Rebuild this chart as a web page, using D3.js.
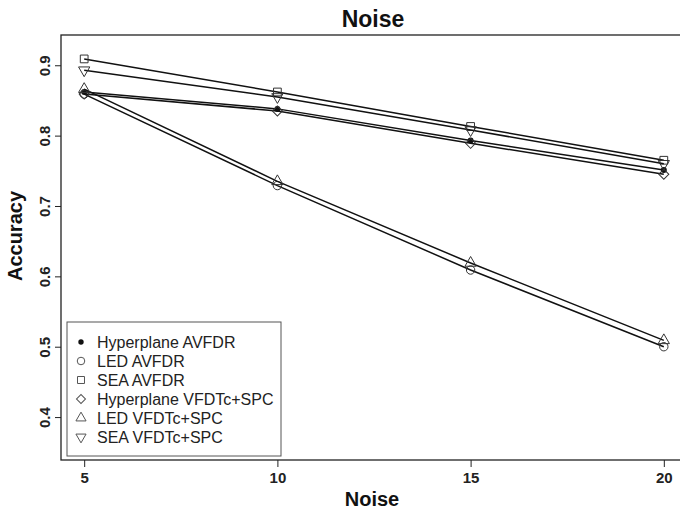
<!DOCTYPE html>
<html>
<head>
  <meta charset="UTF-8">
  <title>Noise</title>
  <script src="https://d3js.org/d3.v7.min.js"></script>
  <style>
    body { margin: 0; padding: 0; background: #fff; }
    svg { display: block; font-family: 'Liberation Sans', Arial, sans-serif; }
    .tick text { font-size: 15px; font-weight: bold; fill: #222; }
  </style>
</head>
<body>
  <svg id="chart" width="680" height="513"></svg>
  <script>
    const noise = [5, 10, 15, 20];
    const seriesNames = ["Hyperplane AVFDR", "LED AVFDR", "SEA AVFDR",
      "Hyperplane VFDTc+SPC", "LED VFDTc+SPC", "SEA VFDTc+SPC"];
    const hyperplaneAvfdr = [0.862, 0.838, 0.793, 0.751];
    const ledAvfdr = [0.859, 0.729, 0.609, 0.500];
    const seaAvfdr = [0.909, 0.862, 0.813, 0.765];
    const hyperplaneVfdtc = [0.859, 0.835, 0.789, 0.745];
    const ledVfdtc = [0.866, 0.735, 0.619, 0.509];
    const seaVfdtc = [0.893, 0.855, 0.808, 0.760];
    const xTicks = [5, 10, 15, 20];
    const yTicks = [0.4, 0.5, 0.6, 0.7, 0.8, 0.9];

    const allSeries = [hyperplaneAvfdr, ledAvfdr, seaAvfdr, hyperplaneVfdtc, ledVfdtc, seaVfdtc];
    const pch = ["dot", "circle", "square", "diamond", "triangle", "down"];

    const svg = d3.select("#chart");
    const x = d3.scaleLinear().domain([4.4, 20.6]).range([61, 687]);
    const y = d3.scaleLinear().domain([0.339, 0.943]).range([460, 35]);

    // box (right edge falls outside the picture)
    svg.append("rect")
      .attr("x", x.range()[0]).attr("y", y.range()[1])
      .attr("width", x.range()[1] - x.range()[0])
      .attr("height", y.range()[0] - y.range()[1])
      .attr("fill", "none").attr("stroke", "#222").attr("stroke-width", 1.3);

    const xAxis = svg.append("g")
      .attr("transform", `translate(0,${y.range()[0]})`)
      .call(d3.axisBottom(x).tickValues(xTicks).tickSize(7).tickPadding(5).tickFormat(d3.format("d")));
    xAxis.select(".domain").remove();
    xAxis.selectAll("line").attr("stroke", "#222");

    const yAxis = svg.append("g")
      .attr("transform", `translate(${x.range()[0]},0)`)
      .call(d3.axisLeft(y).tickValues(yTicks).tickSize(6).tickFormat(d3.format(".1f")));
    yAxis.select(".domain").remove();
    yAxis.selectAll("line").attr("stroke", "#222");
    yAxis.selectAll("text")
      .attr("x", 0).attr("dy", 0)
      .attr("text-anchor", "middle")
      .attr("transform", "translate(-11,0) rotate(-90)");

    function drawSymbol(g, type, cx, cy, scale, col) {
      scale = scale || 1;
      col = col || "#333";
      let s;
      if (type === "dot") {
        g.append("circle").attr("cx", cx).attr("cy", cy).attr("r", 3 * scale).attr("fill", "#111");
        return;
      }
      if (type === "circle") {
        g.append("circle").attr("cx", cx).attr("cy", cy).attr("r", 4.2 * scale)
          .attr("fill", "none").attr("stroke", col);
        return;
      }
      const a = scale * scale;
      if (type === "square") s = d3.symbol(d3.symbolSquare, 60 * a);
      if (type === "diamond") s = d3.symbol(d3.symbolSquare, 50 * a);
      if (type === "triangle" || type === "down") s = d3.symbol(d3.symbolTriangle, 55 * a);
      let rot = type === "diamond" ? 45 : type === "down" ? 180 : 0;
      g.append("path").attr("d", s())
        .attr("transform", `translate(${cx},${cy}) rotate(${rot})`)
        .attr("fill", "none").attr("stroke", col).attr("stroke-width", 1);
    }

    const line = d3.line().x((d, i) => x(noise[i])).y(d => y(d));
    allSeries.forEach(function(vals, k) {
      svg.append("path").datum(vals)
        .attr("d", line)
        .attr("fill", "none").attr("stroke", "#111").attr("stroke-width", 1.5);
      const g = svg.append("g");
      vals.forEach(function(v, i) { drawSymbol(g, pch[k], x(noise[i]), y(v)); });
    });

    // legend
    const lg = svg.append("g");
    lg.append("rect").attr("x", 67).attr("y", 322).attr("width", 214).attr("height", 134)
      .attr("fill", "#fff").attr("stroke", "#555").attr("stroke-width", 1);
    seriesNames.forEach(function(name, k) {
      const yy = 342 + k * 19;
      drawSymbol(lg, pch[k], 81, yy, 0.9, "#555");
      lg.append("text").attr("x", 97).attr("y", yy).attr("dy", "0.35em")
        .style("font-size", "16px").attr("fill", "#222").text(name);
    });

    svg.append("text").attr("x", 373).attr("y", 27).attr("text-anchor", "middle")
      .style("font-size", "23px").style("font-weight", "bold").attr("fill", "#111").text("Noise");
    svg.append("text").attr("x", 372).attr("y", 506).attr("text-anchor", "middle")
      .style("font-size", "20px").style("font-weight", "bold").attr("fill", "#111").text("Noise");
    svg.append("text").attr("transform", "translate(22,236) rotate(-90)")
      .attr("text-anchor", "middle")
      .style("font-size", "20px").style("font-weight", "bold").attr("fill", "#111").text("Accuracy");
  </script>
</body>
</html>
